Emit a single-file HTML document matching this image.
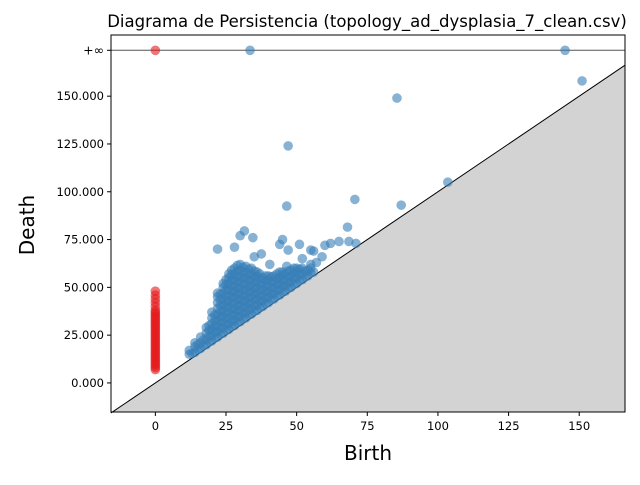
<!DOCTYPE html>
<html><head><meta charset="utf-8"><style>
body{margin:0;background:#fff;font-family:"Liberation Sans","DejaVu Sans",sans-serif}
svg text{font-family:"DejaVu Sans","Liberation Sans",sans-serif}
</style></head><body>
<svg id="chart" width="640" height="480">
<text x="367" y="27" font-size="16.5" text-anchor="middle">Diagrama de Persistencia (topology_ad_dysplasia_7_clean.csv)</text>
<g id="plot"></g>
<text x="368" y="460" font-size="20" text-anchor="middle">Birth</text>
<text x="34" y="225" font-size="20" text-anchor="middle" transform="rotate(-90 34 225)">Death</text>
</svg>
<script>
const xTicks=[0,25,50,75,100,125,150];
const yTicks=[0,25,50,75,100,125,150];
const yTickLabels=["0.000","25.000","50.000","75.000","100.000","125.000","150.000"];
const infValue=174;
const redBirths=[0];
const redDeaths=[7,8,9,10,11,12,13,14,15,16,17,18,19,20,21,22,23,24,25,26,27,28,29,30,31,32,33,34,35,36,37,38,40,42,44,46,48];
const redInfBirths=[0];
const blueInfBirths=[33.5,145];
const clusterBirths=[12,14,16,18,20,22,24,26,28,30,32,34,36,38,40,42,44,46,48,50,52,54,56];
const clusterDeaths=[[15,17],[16,19,21],[18,21,24],[20,23,26,29],[22,25,28,31,34,37],[24,27,30,33,36,39,42,45,47],[26,29,32,35,38,41,44,47,50,52],[28,31,34,37,40,43,46,49,52,55,57],[30,33,36,39,42,45,48,51,54,57,60],[32,35,38,41,44,47,50,53,56,59,62],[34,37,40,43,46,49,52,55,58,61],[36,39,42,45,48,51,54,57,60],[38,41,44,47,50,53,56,58],[40,43,46,49,52,55],[42,45,48,51,54,56],[44,47,50,53,56],[46,49,52,55,58],[48,51,54,57],[50,53,56,59],[52,55,58,60],[54,57,60],[56,59],[58]];
const cluster2Births=[13,15,17,19,21,23,25,27,29,31,33,35,37,39,41,43,45,47,49,51,53,55];
const cluster2Deaths=[[15.5],[17.5,20],[19.5,22.5],[21.5,24.5,27.5,30],[23.5,26.5,29.5,32.5,35.5],[25.5,28.5,31.5,34.5,37.5,40.5,43.5,46.5],[27.5,30.5,33.5,36.5,39.5,42.5,45.5,48.5,51.5,54],[29.5,32.5,35.5,38.5,41.5,44.5,47.5,50.5,53.5,56.5,59],[31.5,34.5,37.5,40.5,43.5,46.5,49.5,52.5,55.5,58.5,61.5],[33.5,36.5,39.5,42.5,45.5,48.5,51.5,54.5,57.5,60.5],[35.5,38.5,41.5,44.5,47.5,50.5,53.5,56.5,59.5],[37.5,40.5,43.5,46.5,49.5,52.5,55.5,58.5],[39.5,42.5,45.5,48.5,51.5,54.5,57],[41.5,44.5,47.5,50.5,53.5,56],[43.5,46.5,49.5,52.5,55.5],[45.5,48.5,51.5,54.5,57],[47.5,50.5,53.5,56.5,58],[49.5,52.5,55.5,58.5],[51.5,54.5,57.5,60],[53.5,56.5,59.5],[55.5,58.5],[57.5,60]];
const outBirths=[151,85.5,47,46.5,70.6,87,103.5,22,68,65,68.5,71,62,60,56,59,45,44,47,51,30,31.5,34.5,28,35,37.5,40.5,46.5,52,55,57,55];
const outDeaths=[158,149,124,92.5,96,93,105,70,81.5,74,74,73,73,72,69,66,75,72.5,69.5,72.5,77,79.5,76,71,66,67.5,62,61,65,62,63,69.5];

const L=111,R=625,T=35,B=412;
const xMin=-15.7,xMax=166.2,yMin=-15.2,yMax=182;
const sx=v=>L+(v-xMin)/(xMax-xMin)*(R-L);
const sy=v=>B-(v-yMin)/(yMax-yMin)*(B-T);
const NS="http://www.w3.org/2000/svg";
const g=document.getElementById('plot');
function mk(tag,attrs,parent){const e=document.createElementNS(NS,tag);for(const k in attrs)e.setAttribute(k,attrs[k]);(parent||g).appendChild(e);return e;}
const poly=mk('polygon',{points:`${sx(xMin)},${sy(xMin)} ${sx(xMax)},${sy(xMax)} ${R},${B} ${L},${B}`,fill:'#d3d3d3'});


const diag=mk('line',{x1:sx(xMin),y1:sy(xMin),x2:sx(xMax),y2:sy(xMax),stroke:'#000','stroke-width':1});


const infl=mk('line',{x1:L,y1:sy(infValue),x2:R,y2:sy(infValue),stroke:'#555','stroke-width':1});


function dot(b,d,c,name){const e=mk('circle',{cx:sx(b),cy:sy(d),r:4.8,fill:c,'fill-opacity':0.6});

}
const RED='#e41a1c',BLUE='#377eb8';
redBirths.forEach(b=>redDeaths.forEach(d=>dot(b,d,RED,'h0-point')));
clusterBirths.forEach((b,i)=>clusterDeaths[i].forEach(d=>dot(b,d,BLUE,'h1-point')));
cluster2Births.forEach((b,i)=>cluster2Deaths[i].forEach(d=>dot(b,d,BLUE,'h1-point')));
outBirths.forEach((b,i)=>dot(b,outDeaths[i],BLUE,'h1-point'));
redInfBirths.forEach(b=>dot(b,infValue,RED,'h0-infinite-point'));
blueInfBirths.forEach(b=>dot(b,infValue,BLUE,'h1-infinite-point'));
const fr=mk('rect',{x:L,y:T,width:R-L,height:B-T,fill:'none',stroke:'#000','stroke-width':1});


xTicks.forEach(v=>{const x=sx(v);mk('line',{x1:x,y1:B,x2:x,y2:B+4,stroke:'#000'});
const t=mk('text',{x:x,y:B+18,'font-size':11.5,'text-anchor':'middle'});t.textContent=v;

});
yTicks.forEach((v,i)=>{const y=sy(v);mk('line',{x1:L-4,y1:y,x2:L,y2:y,stroke:'#000'});
const t=mk('text',{x:L-7,y:y+4,'font-size':11.5,'text-anchor':'end'});t.textContent=yTickLabels[i];

});
mk('line',{x1:L-4,y1:sy(infValue),x2:L,y2:sy(infValue),stroke:'#000'});
const it=mk('text',{x:L-7,y:sy(infValue)+4,'font-size':12.5,'text-anchor':'end'});it.textContent='+∞';


</script>
</body></html>
